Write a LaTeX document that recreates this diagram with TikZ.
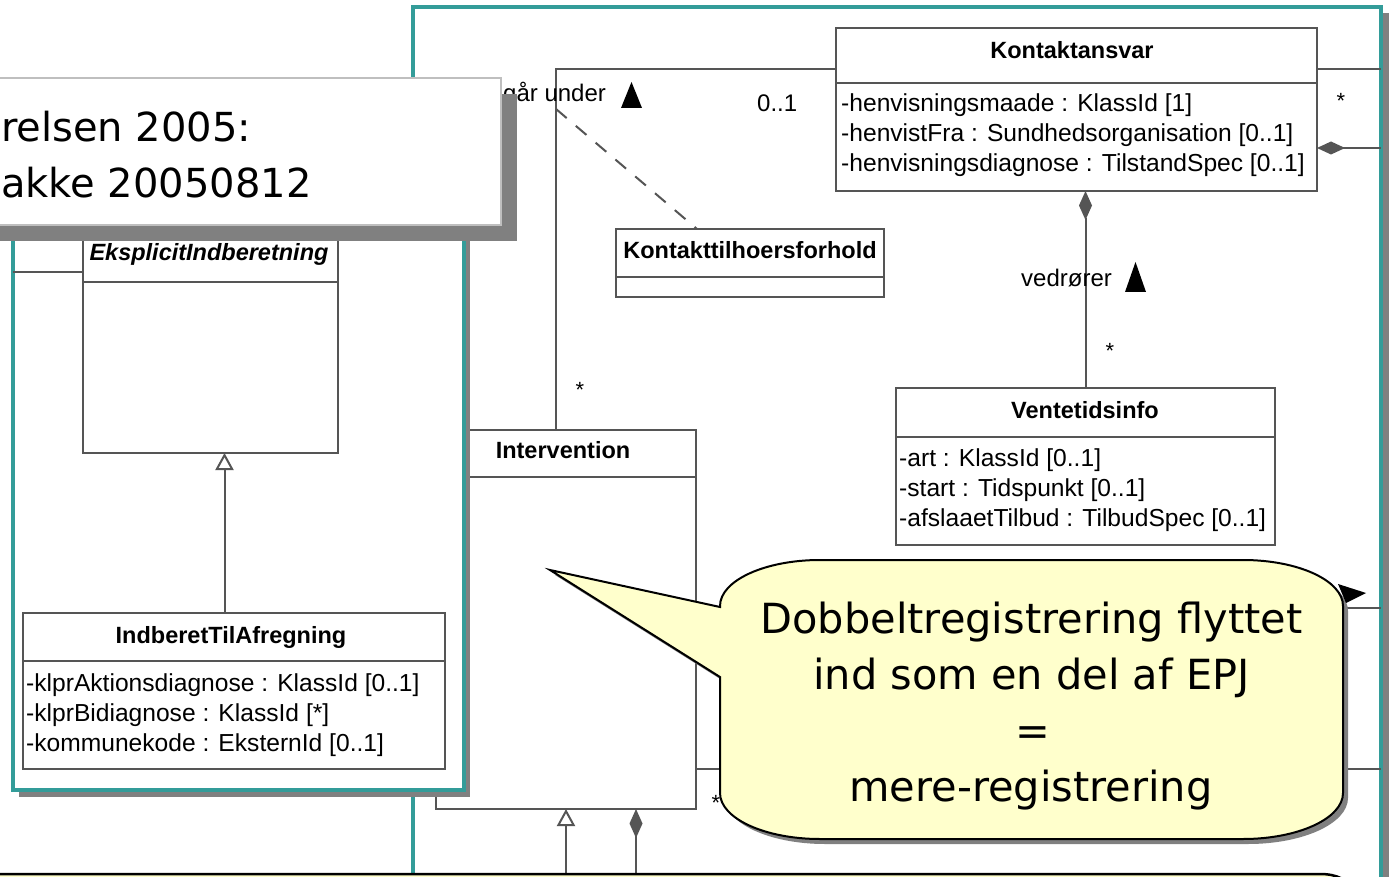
\documentclass[tikz,border=0pt]{standalone}
\usepackage{fontspec}
\setmainfont{Liberation Sans}
\newfontfamily\tah{DejaVu Sans}
\usetikzlibrary{arrows.meta,calc}
\definecolor{teal2}{HTML}{339C99}
\definecolor{umlgray}{HTML}{555555}
\definecolor{shadowgray}{HTML}{808080}
\definecolor{callfill}{HTML}{FFFFCC}
\begin{document}
\begin{tikzpicture}[x=1pt,y=-1pt,
  umlbox/.style={draw=umlgray,line width=2pt,fill=white,inner sep=0pt,outer sep=0pt},
  umlline/.style={draw=umlgray,line width=2pt},
  umldash/.style={draw=umlgray,line width=2pt,dash pattern=on 14pt off 12pt},
  attr/.style={anchor=base west,inner sep=0pt,font=\fontsize{24.6}{28}\selectfont},
  cname/.style={anchor=base,inner sep=0pt,font=\fontsize{23.5}{28}\selectfont\bfseries},
  lbl/.style={anchor=base west,inner sep=0pt,font=\fontsize{24}{28}\selectfont},
  star/.style={inner sep=0pt,font=\fontsize{22}{24}\selectfont},
  frame/.style={draw=teal2,line width=3.5pt,fill=white,inner sep=0pt,outer sep=0pt},
  calltext/.style={anchor=base,inner sep=0pt,font=\tah\fontsize{41.5}{48}\selectfont},
  titletext/.style={anchor=base west,inner sep=0pt,font=\tah\fontsize{40}{48}\selectfont},
  comp/.style={{Diamond[length=29pt,width=13pt]}-},
  gen/.style={-{Triangle[open,length=17pt,width=18pt]}},
  callshape/.pic={\path[pic actions] (820,560) -- (1243,560)
      .. controls (1298.2,560) and (1343,580.6) .. (1343,606) -- (1343,793)
      .. controls (1343,818.4) and (1298.2,839) .. (1243,839) -- (820,839)
      .. controls (764.8,839) and (720,818.4) .. (720,793) -- (720,677)
      -- (550,570) -- (720,607) -- (720,606)
      .. controls (720,580.6) and (764.8,560) .. (820,560) -- cycle;}
]
\useasboundingbox (0,0) rectangle (1389,877);
\clip (0,0) rectangle (1389,877);
\fill[white] (0,0) rectangle (1389,877);

% right package frame
\fill[shadowgray] (419,13) rectangle (1389,960);
\node[frame,minimum width=968pt,minimum height=953pt] (rf) at (897,483.5) {};

% Intervention
\node[umlbox,minimum width=260pt,minimum height=379pt] (iv) at (566,619.5) {};
\draw[umlline] ($(iv.north west)+(0,47)$) -- ($(iv.north east)+(0,47)$);
\node[cname] (ivt) at (563,458.5) {Intervention};

% Kontaktansvar
\node[umlbox,minimum width=481pt,minimum height=163pt] (ka) at (1076.5,109.5) {};
\draw[umlline] ($(ka.north west)+(0,55)$) -- ($(ka.north east)+(0,55)$);
\node[cname] (kat) at (1072,58.5) {Kontaktansvar};
\node[attr] (ka1) at (841,111.5) {-henvisningsmaade : KlassId [1]};
\node[attr] (ka2) at (841,141.5) {-henvistFra : Sundhedsorganisation [0..1]};
\node[attr] (ka3) at (841,171.5) {-henvisningsdiagnose : TilstandSpec [0..1]};

% Kontakttilhoersforhold
\node[umlbox,minimum width=268pt,minimum height=68pt] (kt) at (750,263) {};
\draw[umlline] ($(kt.north west)+(0,48)$) -- ($(kt.north east)+(0,48)$);
\node[cname] (ktt) at (750,258.5) {Kontakttilhoersforhold};

% Ventetidsinfo
\node[umlbox,minimum width=379pt,minimum height=157pt] (vt) at (1085.5,466.5) {};
\draw[umlline] ($(vt.north west)+(0,49)$) -- ($(vt.north east)+(0,49)$);
\node[cname] (vtt) at (1085,418.5) {Ventetidsinfo};
\node[attr] (vt1) at (899,466.5) {-art : KlassId [0..1]};
\node[attr] (vt2) at (899,496.5) {-start : Tidspunkt [0..1]};
\node[attr] (vt3) at (899,526.5) {-afslaaetTilbud : TilbudSpec [0..1]};

% associations
\draw[umlline] ($(iv.north west)+(120,0)$) |- ($(ka.north west)+(0,41)$);
\coordinate (ac) at (556,109);
\draw[umldash] (ac) -- ($(kt.north west)+(81,0)$);
\draw[umlline,comp] (ka.south -| vt.north) -- (vt.north);

\coordinate (kr1) at ($(ka.north east)+(0,41)$);
\draw[umlline] (kr1) -- (kr1 -| rf.east);
\coordinate (kr2) at ($(ka.north east)+(0,120)$);
\draw[umlline,{Diamond[length=28pt,width=13pt]}-] (kr2) -- (kr2 -| rf.east);

\coordinate (ir1) at ($(iv.north east)+(0,178)$);
\draw[umlline] (ir1) -- (ir1 -| rf.east);
\coordinate (ir2) at ($(iv.north east)+(0,339)$);
\draw[umlline] (ir2) -- (ir2 -| rf.east);

\coordinate (g1) at (566,900);
\draw[umlline,gen] (g1) -- (iv.south);
\coordinate (g2) at (636,900);
\draw[umlline,comp] ($(iv.south)+(70,0)$) -- (g2);

% labels
\node[lbl] (l1) at (503,102) {går under};
\fill (621,108) -- (631.5,82) -- (642,108) -- cycle;
\node[lbl] (l2) at (757,112) {0..1};
\node[star] (s1) at (580,390) {*};
\node[lbl] (l3) at (1021,287) {vedrører};
\fill (1125,292) -- (1135.5,262) -- (1146,292) -- cycle;
\node[star] (s2) at (1110,351) {*};
\node[star] (s3) at (1341,101) {*};
\node[star] (s4) at (716,803) {*};

% left package panel
\fill[shadowgray] (19,106) rectangle (470,797);
\node[frame,minimum width=451pt,minimum height=690pt] (lp) at (238.5,445) {};

\node[umlbox,minimum width=255pt,minimum height=253pt] (ei) at (210.5,326.5) {};
\draw[umlline] ($(ei.north west)+(0,82)$) -- ($(ei.north east)+(0,82)$);
\node[cname,font=\fontsize{23.5}{28}\selectfont\bfseries\itshape] (eit) at (209,261) {EksplicitIndberetning};
\draw[umlline] ($(lp.north west)+(0,172)$) -- ($(ei.north west)+(0,72)$);

\node[umlbox,minimum width=422pt,minimum height=156pt] (ia) at (234,691) {};
\draw[umlline] ($(ia.north west)+(0,48)$) -- ($(ia.north east)+(0,48)$);
\node[cname] (iat) at (231,643.5) {IndberetTilAfregning};
\node[attr] (ia1) at (26,691.5) {-klprAktionsdiagnose : KlassId [0..1]};
\node[attr] (ia2) at (26,721.5) {-klprBidiagnose : KlassId [*]};
\node[attr] (ia3) at (26,751.5) {-kommunekode : EksternId [0..1]};
\draw[umlline,gen] ($(ia.north)+(-9.5,0)$) -- ($(ei.south)+(14,0)$);

% title box
\fill[shadowgray] (-4,94) rectangle (517,241);
\node[draw=black!25,line width=2pt,fill=white,minimum width=531pt,minimum height=147pt,inner sep=0pt,outer sep=0pt] (tb) at (235.5,151.5) {};
\node[titletext] (tt1) at (1,142) {relsen 2005:};
\node[titletext] (tt2) at (1,198) {akke 20050812};

% callout
\pic[fill=shadowgray] at (5,5) {callshape};
\pic[fill=callfill,draw=black,line width=2pt] at (0,0) {callshape};
\node[calltext] (c1) at (1031.5,633) {Dobbeltregistrering flyttet};
\node[calltext] (c2) at (1031.5,689) {ind som en del af EPJ};
\node[calltext] (c3) at (1033,745) {=};
\node[calltext] (c4) at (1031,801) {mere-registrering};
\fill (1338,584) -- (1366,593) -- (1346,603) -- cycle;

% bottom note box
\path[fill=callfill,draw=black,line width=2.5pt] (-10,900) -- (-10,874) -- (1320,874)
  .. controls (1337,874) and (1350,880) .. (1352,892) -- (1352,900) -- cycle;
\end{tikzpicture}
\end{document}
